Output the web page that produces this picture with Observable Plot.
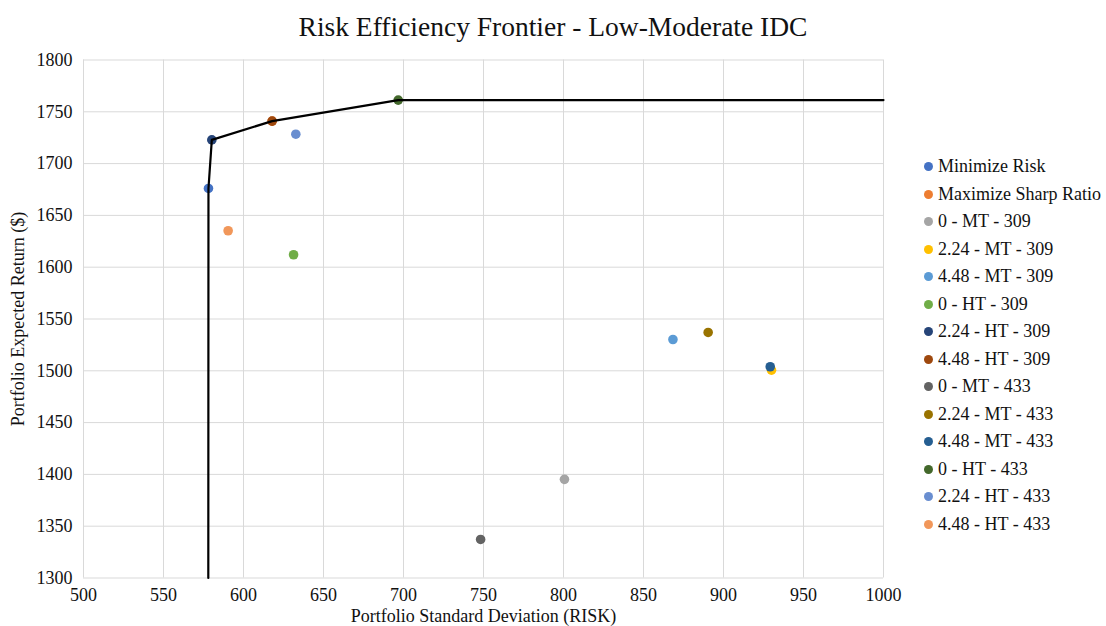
<!DOCTYPE html>
<html>
<head>
<meta charset="utf-8">
<script src="https://cdn.jsdelivr.net/npm/d3@7"></script>
<script src="https://cdn.jsdelivr.net/npm/@observablehq/plot@0.6"></script>
</head>
<body style="margin:0;padding:0;background:#fff">
<div id="wrap" style="position:relative;width:1106px;height:626px;font-family:'Liberation Serif';">
  <div id="title" style="height:50px;width:1106px;text-align:center;font-size:27.5px;line-height:54px;color:#111;font-family:'Liberation Serif';">Risk Efficiency Frontier - Low-Moderate IDC</div>
  <div id="chart"></div>
  <div id="legend" style="position:absolute;left:923px;top:153px;font-size:18px;color:#111;font-family:'Liberation Serif';"></div>
</div>
<script>
const categories = [
  "Minimize Risk", "Maximize Sharp Ratio",
  "0 - MT - 309", "2.24 - MT - 309", "4.48 - MT - 309",
  "0 - HT - 309", "2.24 - HT - 309", "4.48 - HT - 309",
  "0 - MT - 433", "2.24 - MT - 433", "4.48 - MT - 433",
  "0 - HT - 433", "2.24 - HT - 433", "4.48 - HT - 433"
];
const colors = [
  "#4472C4", "#ED7D31",
  "#A5A5A5", "#FFC000", "#5B9BD5",
  "#70AD47", "#264478", "#9E480E",
  "#636363", "#997300", "#255E91",
  "#43682B", "#698ED0", "#F1975A"
];
const riskValues   = [578.1, 617.9, 800.6, 930.0, 868.4, 631.3, 580.2, 617.9, 748.2, 890.4, 929.2, 696.7, 632.7, 590.4];
const returnValues = [1676.0, 1741.0, 1395.2, 1500.6, 1530.2, 1612.0, 1722.9, 1741.0, 1337.2, 1537.0, 1503.9, 1761.3, 1728.4, 1635.2];

const frontierRisk   = [578.0, 578.1, 580.2, 617.9, 696.7, 1000];
const frontierReturn = [1300, 1676.0, 1722.9, 1741.0, 1761.3, 1761.3];

const xTicks = [500, 550, 600, 650, 700, 750, 800, 850, 900, 950, 1000];
const yTicks = [1300, 1350, 1400, 1450, 1500, 1550, 1600, 1650, 1700, 1750, 1800];

const points = categories.map((c, i) => ({name: c, risk: riskValues[i], ret: returnValues[i]}));
const frontier = frontierRisk.map((r, i) => ({risk: r, ret: frontierReturn[i]}));

const serif = "Liberation Serif";
const chart = Plot.plot({
  width: 1106,
  height: 576,
  marginLeft: 83,
  marginRight: 223,
  marginTop: 9.5,
  marginBottom: 48.5,
  style: {fontFamily: serif, fontSize: "18px", color: "#111", background: "#fff"},
  x: {domain: [500, 1000]},
  y: {domain: [1300, 1800]},
  color: {domain: categories, range: colors},
  marks: [
    Plot.gridX(xTicks, {stroke: "#d9d9d9", strokeOpacity: 1, strokeWidth: 1}),
    Plot.gridY(yTicks, {stroke: "#d9d9d9", strokeOpacity: 1, strokeWidth: 1}),
    Plot.axisX(xTicks, {tickSize: 0, tickPadding: 10, tickFormat: d => String(d), fontFamily: serif, fontSize: 18, label: "Portfolio Standard Deviation (RISK)", labelAnchor: "center", labelArrow: "none", labelOffset: 43.5, fill: "#111"}),
    Plot.axisY(yTicks, {tickSize: 0, tickPadding: 11, tickFormat: d => String(d), fontFamily: serif, fontSize: 18, label: "Portfolio Expected Return ($)", labelAnchor: "center", labelArrow: "none", labelOffset: 72, fill: "#111"}),
    Plot.dot(points, {x: "risk", y: "ret", fill: "name", r: 4.8}),
    Plot.line(frontier, {x: "risk", y: "ret", stroke: "#000", strokeWidth: 2.2})
  ]
});
chart.setAttribute("font-family", serif);
chart.style.fontFamily = serif;
document.getElementById("chart").appendChild(chart);

const legend = document.getElementById("legend");
categories.forEach((c, i) => {
  const d = document.createElement("div");
  d.style.cssText = "height:27.5px;line-height:27.5px;white-space:nowrap;display:flex;align-items:center;font-family:'Liberation Serif';";
  const sw = document.createElement("span");
  sw.style.cssText = `width:9px;height:9px;border-radius:50%;display:inline-block;margin-right:5px;margin-left:1px;background:${colors[i]}`;
  const tx = document.createElement("span");
  tx.textContent = c;
  d.appendChild(sw);
  d.appendChild(tx);
  legend.appendChild(d);
});
</script>
</body>
</html>
